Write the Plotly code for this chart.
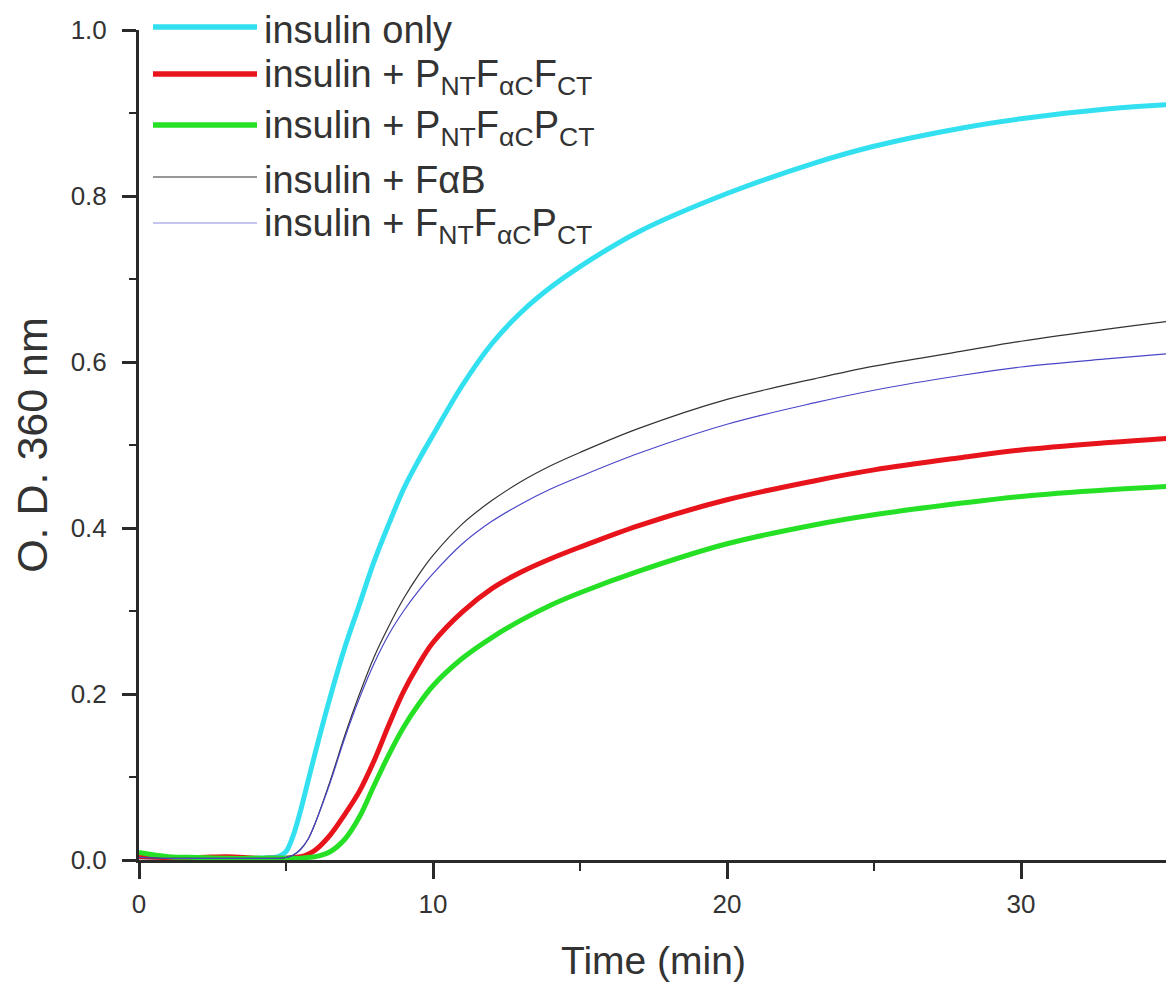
import plotly.graph_objects as go

# ---- data (time in min, O.D. at 360 nm) ----
time_min = [0, 1, 2, 3, 4, 4.5, 4.75, 5, 5.25, 5.5, 5.75, 6, 6.5, 7, 7.5, 8, 8.5, 9, 9.5, 10,
            11, 12, 13, 14, 15, 17, 20, 23, 25, 28, 30, 33, 35]

insulin_only = [0.004, 0.003, 0.002, 0.002, 0.002, 0.003, 0.004, 0.01, 0.03, 0.06, 0.095, 0.13,
                0.196, 0.256, 0.308, 0.36, 0.405, 0.447, 0.481, 0.512,
                0.572, 0.622, 0.66, 0.69, 0.715, 0.757, 0.803, 0.84, 0.86, 0.882, 0.893, 0.905, 0.91]

pnt_fac_fct = [0.004, 0.003, 0.003, 0.004, 0.002, 0.002, 0.002, 0.002, 0.003, 0.004, 0.007, 0.012,
               0.03, 0.055, 0.083, 0.12, 0.163, 0.203, 0.235, 0.262,
               0.299, 0.327, 0.347, 0.363, 0.377, 0.403, 0.434, 0.457, 0.47, 0.485, 0.494, 0.503, 0.508]

pnt_fac_pct = [0.009, 0.004, 0.003, 0.002, 0.002, 0.002, 0.002, 0.002, 0.002, 0.002, 0.003, 0.004,
               0.01, 0.025, 0.052, 0.09, 0.127, 0.16, 0.187, 0.21,
               0.243, 0.268, 0.289, 0.307, 0.322, 0.348, 0.381, 0.404, 0.416, 0.43, 0.438, 0.446, 0.45]

fab = [0.003, 0.002, 0.002, 0.002, 0.002, 0.002, 0.002, 0.003, 0.006, 0.013, 0.025, 0.045,
       0.095, 0.15, 0.2, 0.245, 0.282, 0.315, 0.343, 0.367,
       0.405, 0.433, 0.456, 0.475, 0.491, 0.52, 0.555, 0.58, 0.595, 0.613, 0.625, 0.64, 0.649]

fnt_fac_pct = [0.003, 0.002, 0.002, 0.002, 0.002, 0.002, 0.002, 0.003, 0.006, 0.013, 0.025, 0.045,
               0.093, 0.147, 0.195, 0.237, 0.272, 0.3, 0.324, 0.345,
               0.381, 0.408, 0.429, 0.447, 0.462, 0.49, 0.525, 0.551, 0.566, 0.584, 0.594, 0.604, 0.61]

series_names = [
    "insulin only",
    "insulin + P<sub>NT</sub>F<sub>\u03b1C</sub>F<sub>CT</sub>",
    "insulin + P<sub>NT</sub>F<sub>\u03b1C</sub>P<sub>CT</sub>",
    "insulin + F\u03b1B",
    "insulin + F<sub>NT</sub>F<sub>\u03b1C</sub>P<sub>CT</sub>",
]
series_values = [insulin_only, pnt_fac_fct, pnt_fac_pct, fab, fnt_fac_pct]
series_colors = ["#33E0F0", "#E8141C", "#26E026", "#333333", "#4A46C8"]
legend_colors = ["#33E0F0", "#E8141C", "#26E026", "#333333", "#8C88E0"]
series_widths = [5, 5, 5, 1.2, 1.2]

x_ticks = [0, 10, 20, 30]
y_ticks = [0.0, 0.2, 0.4, 0.6, 0.8, 1.0]

FONT = "Liberation Sans, Arial, sans-serif"
TXT = "#333333"
AX = "#2a2a2a"

fig = go.Figure()
for i in range(len(series_values)):
    fig.add_trace(go.Scatter(
        x=time_min, y=series_values[i], mode="lines", name=series_names[i],
        line=dict(color=series_colors[i], width=series_widths[i], shape="spline", smoothing=1.0),
        showlegend=False, hoverinfo="skip"))

# page body has an 8px margin: figure is drawn from (8, 8)
OFF = 8
FW, FH = 1174 - OFF, 986 - OFF
# plot area in window pixels: x 139..1168, y 30..860
L, R, T, B = 139 - OFF, 1174 - 1168, 30 - OFF, 986 - 860
W, H = FW - L - R, FH - T - B
def px(xp):  # window x pixel -> paper
    return (xp - OFF - L) / W
def py(yp):  # window y pixel -> paper
    return (FH - B - (yp - OFF)) / H

row_y = [27, 74, 125, 177, 223]
shapes = []
annotations = []
for i, yy in enumerate(row_y):
    shapes.append(dict(type="line", xref="paper", yref="paper",
                       x0=px(153), x1=px(257), y0=py(yy), y1=py(yy),
                       line=dict(color=legend_colors[i], width=series_widths[i] + (0.3 if i < 3 else 0))))
    annotations.append(dict(xref="paper", yref="paper", x=px(262), y=py(yy + 3),
                            xanchor="left", yanchor="middle", showarrow=False,
                            text=series_names[i], font=dict(family=FONT, size=38, color=TXT)))

fig.update_layout(
    width=FW, height=FH,
    margin=dict(l=L, r=R, t=T, b=B),
    paper_bgcolor="white", plot_bgcolor="white",
    font=dict(family=FONT, color=TXT),
    shapes=shapes, annotations=annotations,
    xaxis=dict(
        range=[0, 35], tickvals=x_ticks, ticktext=[str(v) for v in x_ticks],
        automargin=False,
        showgrid=False, zeroline=False, showline=True, linecolor=AX, linewidth=3,
        ticks="outside", ticklen=16, tickwidth=3, tickcolor=AX,
        tickfont=dict(family=FONT, size=26, color=TXT), ticklabelstandoff=3,
        minor=dict(dtick=5, tick0=0, ticks="outside", ticklen=8, tickwidth=2, tickcolor=AX),
        title=dict(text="Time (min)", font=dict(family=FONT, size=39, color=TXT), standoff=29),
    ),
    yaxis=dict(
        range=[0, 1.0], tickvals=y_ticks, ticktext=[f"{v:.1f}" for v in y_ticks],
        automargin=False,
        showgrid=False, zeroline=False, showline=True, linecolor=AX, linewidth=3,
        ticks="outside", ticklen=14, tickwidth=3, tickcolor=AX,
        tickfont=dict(family=FONT, size=26, color=TXT), ticklabelstandoff=10,
        minor=dict(dtick=0.1, tick0=0, ticks="outside", ticklen=7, tickwidth=2, tickcolor=AX),
        title=dict(text="O. D. 360 nm", font=dict(family=FONT, size=43, color=TXT), standoff=14),
    ),
)

fig.write_html("out.html")
